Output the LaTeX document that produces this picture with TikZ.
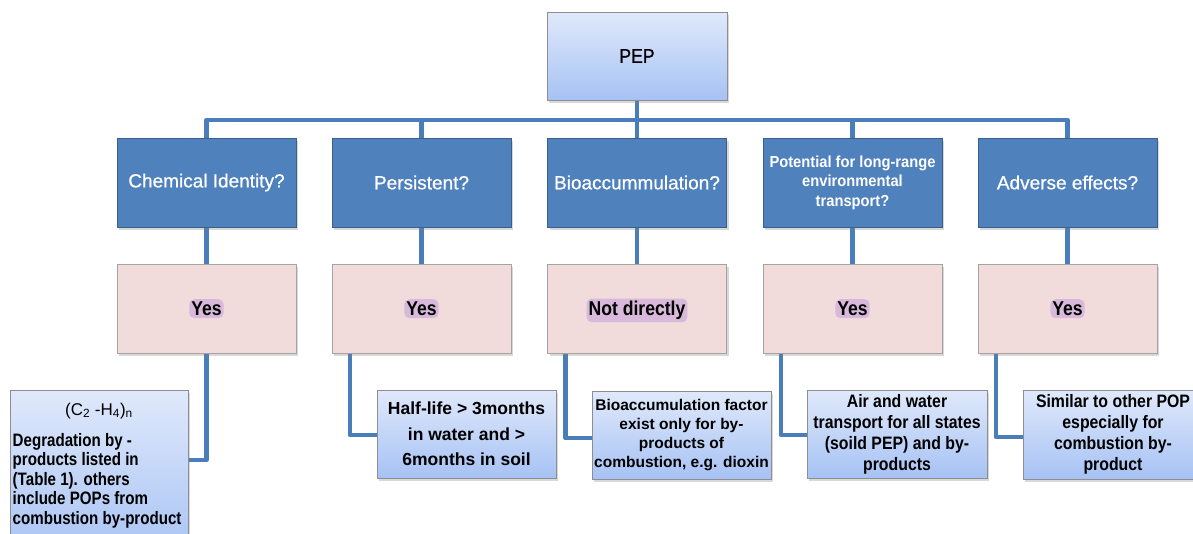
\documentclass[tikz,border=0pt]{standalone}
\usepackage{fontspec}
\setmainfont{Liberation Sans}
\newfontfamily\fsA[FakeStretch=0.84]{Liberation Sans}
\newfontfamily\fsB[FakeStretch=0.88]{Liberation Sans}
\newfontfamily\fsC[FakeStretch=0.92]{Liberation Sans}
\newfontfamily\fsQ[FakeBold=0.7]{Liberation Sans}
\newfontfamily\fsP[FakeStretch=0.88,FakeBold=0.9]{Liberation Sans}
\usetikzlibrary{shadows,backgrounds}
\definecolor{qblue}{HTML}{4F81BD}
\definecolor{qborder}{HTML}{3A5F8D}
\definecolor{pinkf}{HTML}{F2DCDB}
\definecolor{pinkd}{HTML}{A3A3A3}
\definecolor{gtop}{HTML}{E0E9FB}
\definecolor{gbot}{HTML}{A6C2F4}
\definecolor{gdraw}{HTML}{8E8E8E}
\definecolor{linec}{HTML}{4A7EBB}
\definecolor{glowc}{HTML}{C9A3DB}
\begin{document}
\begin{tikzpicture}[x=1pt,y=-1pt,
  box/.style={rectangle, inner sep=0pt, minimum width=179pt, minimum height=89pt, line width=0.8pt,
    drop shadow={opacity=0.3,shadow xshift=2pt,shadow yshift=-3pt}},
  qbox/.style={box, fill=qblue, draw=qborder, text=white, font=\fsQ\fontsize{19}{22}\selectfont},
  abox/.style={box, fill=pinkf, draw=pinkd},
  glowtxt/.style={fill=glowc, fill opacity=0.6, text opacity=1, rounded corners=5pt, inner xsep=2pt, inner ysep=2.5pt,
    anchor=base, font=\fsB\bfseries\fontsize{20}{24}\selectfont},
  gbox/.style={box, top color=gtop, bottom color=gbot, draw=gdraw, align=center},
  conn/.style={draw=linec, line width=4.5pt, line join=round},
  txt/.style={inner sep=0pt}
]
\useasboundingbox (0,0) rectangle (1193,533);
% top
\node[gbox, minimum width=180pt, minimum height=88pt, font=\fsP\fontsize{20}{22}\selectfont] (pep) at (637,56) {PEP};
% questions
\node[qbox] (q1) at (206.5,182.5) {Chemical Identity?};
\node[qbox] (q2) at (421.5,182.5) {Persistent?};
\node[qbox] (q3) at (637,182.5) {Bioaccummulation?};
\node[qbox, align=center, font=\fsC\bfseries\fontsize{16}{19.5}\selectfont] (q4) at (852.5,182.5)
  {Potential for long-range\\environmental\\transport?};
\node[qbox] (q5) at (1067.5,182.5) {Adverse effects?};
% answers
\node[abox] (a1) at (206.5,308.5) {};
\node[abox] (a2) at (421.5,308.5) {};
\node[abox] (a3) at (637,308.5) {};
\node[abox] (a4) at (852.5,308.5) {};
\node[abox] (a5) at (1067.5,308.5) {};
\node[glowtxt] (y1) at ([yshift=-7pt]a1.center) {Yes};
\node[glowtxt] (y2) at ([yshift=-7pt]a2.center) {Yes};
\node[glowtxt] (y3) at ([yshift=-7pt]a3.center) {Not directly};
\node[glowtxt] (y4) at ([yshift=-7pt]a4.center) {Yes};
\node[glowtxt] (y5) at ([yshift=-7pt]a5.center) {Yes};
% details
\node[gbox, minimum width=178pt, minimum height=170pt] (d1) at (99,475) {};
\node[txt, font=\fontsize{17}{20}\selectfont] (t1f) at (99,411) {(C\textsubscript{2} -H\textsubscript{4})\textsubscript{n}};
\node[txt, anchor=north west, align=left, font=\fsA\bfseries\fontsize{18}{19.5}\selectfont] (t1b) at (12.5,433)
  {Degradation by -\\products listed in\\(Table 1). others\\include POPs from\\combustion by-product};
\node[gbox, minimum height=88pt, font=\bfseries\fontsize{17.5}{25.5}\selectfont] (d2) at (466.5,434)
  {Half-life > 3months\\in water and >\\6months in soil};
\node[gbox, minimum height=88pt, font=\bfseries\fontsize{15.5}{19}\selectfont] (d3) at (681.5,435)
  {Bioaccumulation factor\\exist only for by-\\products of\\combustion, e.g. dioxin};
\node[gbox, minimum width=180pt, minimum height=88pt, font=\fsB\bfseries\fontsize{18}{21}\selectfont] (d4) at (897,434)
  {Air and water\\transport for all states\\(soild PEP) and by-\\products};
\node[gbox, minimum width=180pt, minimum height=89pt, font=\fsB\bfseries\fontsize{18}{21}\selectfont] (d5) at (1113,434.5)
  {Similar to other POP\\especially for\\combustion by-\\product};
% connectors
\begin{pgfonlayer}{background}
\fill[white] (0,0) rectangle (1193,533);
\coordinate (bus) at (637,120);
\draw[conn] (pep) -- (q3);
\draw[conn] (q1.north) |- (bus) -| (q5.north);
\draw[conn] (q2.north) -- (q2.north |- bus);
\draw[conn] (q4.north) -- (q4.north |- bus);
\draw[conn] (q1) -- (a1);
\draw[conn] (q2) -- (a2);
\draw[conn] (q3) -- (a3);
\draw[conn] (q4) -- (a4);
\draw[conn] (q5) -- (a5);
\draw[conn] (a1) |- ([yshift=15pt]d1.east);
\draw[conn] ([xshift=18.5pt]a2.south west) |- ([yshift=-1pt]d2.west);
\draw[conn] ([xshift=18.5pt]a3.south west) |- ([yshift=-3pt]d3.west);
\draw[conn] ([xshift=18.5pt]a4.south west) |- ([yshift=-1pt]d4.west);
\draw[conn] ([xshift=18.5pt]a5.south west) |- ([yshift=-2.5pt]d5.west);
\end{pgfonlayer}
\end{tikzpicture}
\end{document}
